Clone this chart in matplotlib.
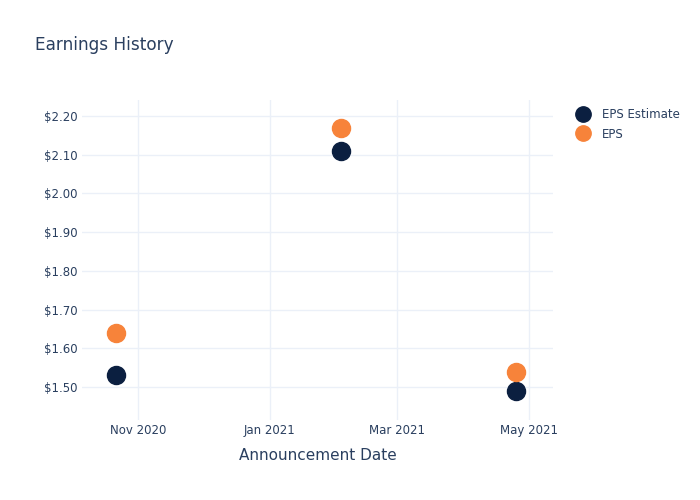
import numpy as np
import pandas as pd
import matplotlib.pyplot as plt
import matplotlib.dates as mdates
from matplotlib.ticker import FuncFormatter

# earnings data
dates = pd.to_datetime(['2020-10-22', '2021-02-03', '2021-04-25'])
eps_estimate = [1.53, 2.11, 1.49]
eps_actual = [1.64, 2.17, 1.54]

text_color = '#2a3f5f'
grid_color = '#ebf0f8'
navy = '#0b1f40'
orange = '#f7833a'

fig = plt.figure(figsize=(7, 5), dpi=100)
ax = fig.add_axes([0.117, 0.16, 0.673, 0.64])

ax.plot(dates, eps_estimate, 'o', color=navy, markersize=13, label='EPS Estimate', zorder=3)
ax.plot(dates, eps_actual, 'o', color=orange, markersize=13, label='EPS', zorder=3)

ax.set_xlim(pd.Timestamp('2020-10-06'), pd.Timestamp('2021-05-12'))
ax.set_ylim(1.415, 2.241)

ax.xaxis.set_major_locator(mdates.MonthLocator(bymonth=[1, 3, 5, 11]))
ax.xaxis.set_major_formatter(mdates.DateFormatter('%b %Y'))
ax.set_yticks(np.arange(1.5, 2.21, 0.1))
ax.yaxis.set_major_formatter(FuncFormatter(lambda v, p: f'${v:.2f}'))

for s in ax.spines.values():
    s.set_visible(False)
ax.grid(True, color=grid_color, linewidth=1)
ax.set_axisbelow(True)
ax.tick_params(length=0, labelsize=8.5, colors=text_color)
ax.tick_params(axis='y', pad=3)
ax.tick_params(axis='x', pad=3)

ax.set_xlabel('Announcement Date', fontsize=11, color=text_color, labelpad=8)
fig.text(0.05, 0.91, 'Earnings History', fontsize=12.2, color=text_color, va='center')

leg = ax.legend(loc='upper left', bbox_to_anchor=(1.017, 1.008), frameon=False,
                fontsize=8.5, handletextpad=0.6, labelspacing=0.55, markerscale=0.85)
for t in leg.get_texts():
    t.set_color(text_color)

fig.savefig('out.png', dpi=100)
